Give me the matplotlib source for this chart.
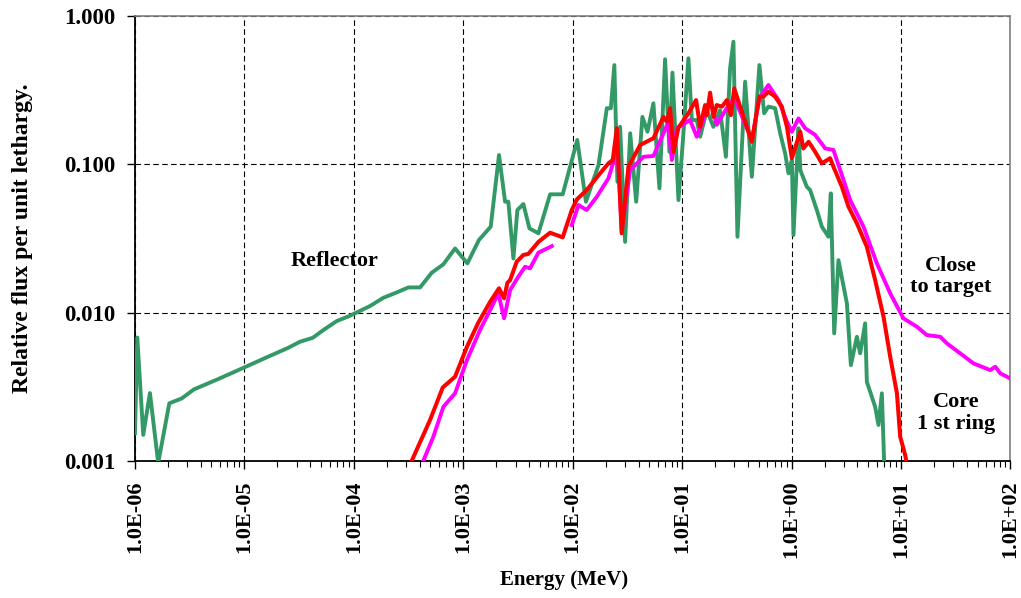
import numpy as np
import matplotlib
matplotlib.use('Agg')
import matplotlib.pyplot as plt
from matplotlib.ticker import FixedLocator, LogLocator, NullFormatter, NullLocator

nan = np.nan

# Reflector (green)
green_e = [1.0e-6, 1.05e-6, 1.19e-6, 1.37e-6, 1.63e-6, 2.06e-6, 2.67e-6, 3.46e-6, 5.77e-6, 9.8e-6,
           1.57e-5, 2.52e-5, 3.22e-5, 4.21e-5, 5.26e-5, 6.98e-5, 9.2e-5, 1.41e-4, 1.86e-4, 2.47e-4,
           3.15e-4, 4.03e-4, 5.15e-4, 6.58e-4, 8.41e-4, 1.09e-3, 1.39e-3, 1.78e-3, 2.12e-3, 2.41e-3,
           2.58e-3, 2.87e-3, 3.12e-3, 3.54e-3, 4.02e-3, 4.86e-3, 6.21e-3, 8.1e-3, 1.10e-2, 1.32e-2,
           1.72e-2, 2.05e-2, 2.23e-2, 2.40e-2, 2.56e-2, 2.71e-2, 3.01e-2, 3.35e-2, 3.8e-2, 4.33e-2,
           4.82e-2, 5.46e-2, 6.2e-2, 6.98e-2, 7.65e-2, 8.15e-2, 9.25e-2, 0.1027, 0.114, 0.1226,
           0.136, 0.146, 0.168, 0.193, 0.222, 0.251, 0.274, 0.294, 0.320, 0.376,
           0.433, 0.508, 0.561, 0.614, 0.707, 0.786, 0.873, 0.936, 1.005, 1.04,
           1.156, 1.20, 1.377, 1.476, 1.70, 1.89, 2.17, 2.28, 2.45, 2.68,
           3.20, 3.48, 3.95, 4.23, 4.70, 4.87, 5.80, 6.22, 6.68, 7.02]
green_f = [0.00154, 0.0068, 0.0015, 0.00287, 0.00097, 0.00245, 0.00264, 0.00304, 0.00357, 0.00425,
           0.00497, 0.0058, 0.00637, 0.00677, 0.00763, 0.00878, 0.00953, 0.0111, 0.0126, 0.0137,
           0.0148, 0.0148, 0.0186, 0.0212, 0.0271, 0.0215, 0.0309, 0.0380, 0.1155, 0.056,
           0.056, 0.0232, 0.0492, 0.054, 0.037, 0.0343, 0.0628, 0.0628, 0.146, 0.056,
           0.099, 0.239, 0.239, 0.467, 0.0763, 0.179, 0.030, 0.162, 0.056, 0.209,
           0.166, 0.258, 0.0689, 0.511, 0.1216, 0.415, 0.0574, 0.162, 0.519, 0.199,
           0.199, 0.1535, 0.232, 0.179, 0.232, 0.1125, 0.444, 0.671, 0.0325, 0.361,
           0.0825, 0.467, 0.221, 0.245, 0.239, 0.162, 0.1186, 0.0870, 0.107, 0.0334,
           0.175, 0.0915, 0.0706, 0.0671, 0.0492, 0.038, 0.0325, 0.0637, 0.00725, 0.0226,
           0.01155, 0.00443, 0.00688, 0.00532, 0.00847, 0.00342, 0.00232, 0.00175, 0.00286, 0.00094]

# Core 1st ring (red)
red_e = [3.27e-4, 4.97e-4, 6.49e-4, 8.41e-4, 1.08e-3, 1.37e-3, 1.76e-3, 2.12e-3, 2.36e-3, 2.53e-3,
         2.68e-3, 3.08e-3, 3.54e-3, 3.93e-3, 4.86e-3, 6.21e-3, 8.1e-3, 9.8e-3, 1.09e-2, 1.34e-2,
         1.78e-2, 2.12e-2, 2.32e-2, 2.53e-2, 2.80e-2, 3.23e-2, 4.13e-2, 5.46e-2, 6.75e-2, 7.24e-2,
         7.76e-2, 8.32e-2, 9.25e-2, 0.114, 0.134, 0.146, 0.162, 0.168, 0.180, 0.193,
         0.207, 0.231, 0.256, 0.279, 0.299, 0.339, 0.433, 0.508, 0.553, 0.614,
         0.707, 0.814, 0.906, 1.005, 1.20, 1.28, 1.43, 1.64, 1.89, 2.25,
         2.41, 2.88, 3.31, 3.95, 4.87, 5.80, 6.92, 7.96, 9.17, 9.82, 10.9, 11.3]
red_f = [0.00095, 0.00189, 0.00313, 0.0037, 0.00589, 0.00855, 0.01185, 0.0146, 0.0125, 0.0159,
         0.0166, 0.0221, 0.0245, 0.0249, 0.030, 0.0346, 0.0322, 0.0492, 0.058, 0.0671,
         0.087, 0.1016, 0.107, 0.175, 0.0343, 0.0964, 0.135, 0.150, 0.209, 0.194,
         0.239, 0.1216, 0.177, 0.221, 0.271, 0.179, 0.251, 0.215, 0.304, 0.209,
         0.251, 0.245, 0.271, 0.215, 0.325, 0.245, 0.142, 0.286, 0.286, 0.309,
         0.286, 0.245, 0.179, 0.110, 0.166, 0.128, 0.142, 0.1216, 0.1016, 0.110,
         0.0964, 0.0706, 0.0518, 0.040, 0.0278, 0.0166, 0.00938, 0.00504, 0.00286, 0.00146,
         0.0011, 0.00096]

# Close to target (magenta), gap marked with nan
mag_e = [4.18e-4, 5.33e-4, 6.58e-4, 8.41e-4, 1.08e-3, 1.42e-3, 1.76e-3, 2.09e-3, 2.36e-3, 2.68e-3,
         3.18e-3, 3.67e-3, 4.07e-3, 4.86e-3, 6.44e-3, nan,
         9.8e-3, 1.13e-2, 1.34e-2, 1.66e-2, 2.12e-2, 2.34e-2, 2.53e-2, 2.80e-2, 3.35e-2, 4.43e-2,
         5.46e-2, 6.75e-2, 7.4e-2, 8.05e-2, 8.94e-2, 0.118, 0.136, 0.162, 0.180, 0.207,
         0.256, 0.299, 0.339, 0.433, 0.508, 0.614, 0.759, 0.906, 1.005, 1.156,
         1.33, 1.64, 2.03, 2.41, 2.78, 3.43, 4.54, 6.01, 7.96, 10.5,
         14.0, 17.2, 22.8, 26.3, 34.7, 45.9, 65.3, 72.6, 80.6, 99.5]
mag_f = [0.00095, 0.00146, 0.00232, 0.00286, 0.00479, 0.00763, 0.0104, 0.0135, 0.00916, 0.0142,
         0.01746, 0.0204, 0.0199, 0.0254, 0.0281, nan,
         0.039, 0.0532, 0.0492, 0.0605, 0.0805, 0.102, 0.16, 0.036, 0.0915, 0.1125,
         0.1138, 0.162, 0.19, 0.107, 0.175, 0.199, 0.1535, 0.215, 0.271, 0.185,
         0.24, 0.28, 0.225, 0.146, 0.28, 0.343, 0.271, 0.194, 0.166, 0.204,
         0.175, 0.158, 0.128, 0.125, 0.0915, 0.0574, 0.038, 0.0215, 0.0135, 0.00916,
         0.00803, 0.00706, 0.00688, 0.0062, 0.00532, 0.00455, 0.0041, 0.00432, 0.0039, 0.0036]

x_ticks = [1e-6, 1e-5, 1e-4, 1e-3, 1e-2, 1e-1, 1e0, 1e1, 1e2]
x_labels = ['1.0E-06', '1.0E-05', '1.0E-04', '1.0E-03', '1.0E-02', '1.0E-01', '1.0E+00', '1.0E+01', '1.0E+02']
y_ticks = [0.001, 0.01, 0.1, 1.0]
y_labels = ['0.001', '0.010', '0.100', '1.000']

plt.rcParams['font.family'] = ['Liberation Serif', 'DejaVu Serif']
plt.rcParams['font.weight'] = 'bold'

fig = plt.figure(figsize=(10.21, 5.98), dpi=100)
ax = fig.add_axes([0.1322, 0.2291, 0.8575, 0.7441])

ax.plot(green_e, green_f, color='#339966', lw=2.8, zorder=3)
ax.plot(mag_e, mag_f, color='#FF00FF', lw=2.8, zorder=4)
ax.plot(red_e, red_f, color='#FF0000', lw=2.9, zorder=5)

ax.set_xscale('log')
ax.set_yscale('log')
ax.set_xlim(1e-6, 1e2)
ax.set_ylim(1e-3, 1.0)

ax.xaxis.set_major_locator(FixedLocator(x_ticks))
ax.set_xticklabels(x_labels, rotation=90, fontsize=16, fontweight='bold')
ax.xaxis.set_minor_locator(LogLocator(base=10, subs=np.arange(2, 10)))
ax.xaxis.set_minor_formatter(NullFormatter())
ax.yaxis.set_major_locator(FixedLocator(y_ticks))
ax.set_yticklabels(y_labels, fontsize=16.5, fontweight='bold')
ax.yaxis.set_minor_locator(NullLocator())

ax.tick_params(axis='both', which='major', direction='out', length=6, width=1, colors='black')
ax.tick_params(axis='x', which='minor', direction='out', length=4, width=0.8)
ax.tick_params(axis='y', which='major', pad=8)
ax.tick_params(axis='x', which='major', pad=8)

ax.grid(True, which='major', color='black', linestyle=(0, (5, 3)), linewidth=0.8)
ax.set_axisbelow(True)

for s in ['top', 'right']:
    ax.spines[s].set_color('#808080')
    ax.spines[s].set_linewidth(1.2)
for s in ['left', 'bottom']:
    ax.spines[s].set_color('black')
    ax.spines[s].set_linewidth(1.3)

ax.set_xlabel('Energy (MeV)', fontsize=15, fontweight='bold')
ax.xaxis.set_label_coords(0.49, -0.244)
ax.set_ylabel('Relative flux per unit lethargy.', fontsize=17, fontweight='bold')
ax.yaxis.set_label_coords(-0.1165, 0.5)

ax.text(6.7e-5, 0.0223, 'Reflector', fontsize=16, fontweight='bold', ha='center', va='center')
ax.text(28.2, 0.0175, 'Close\nto target', fontsize=16, fontweight='bold', ha='center', va='center',
        linespacing=1.1)
ax.text(32.0, 0.0021, 'Core\n1 st ring', fontsize=16, fontweight='bold', ha='center', va='center',
        linespacing=1.1)

plt.savefig('out.png', dpi=100)
